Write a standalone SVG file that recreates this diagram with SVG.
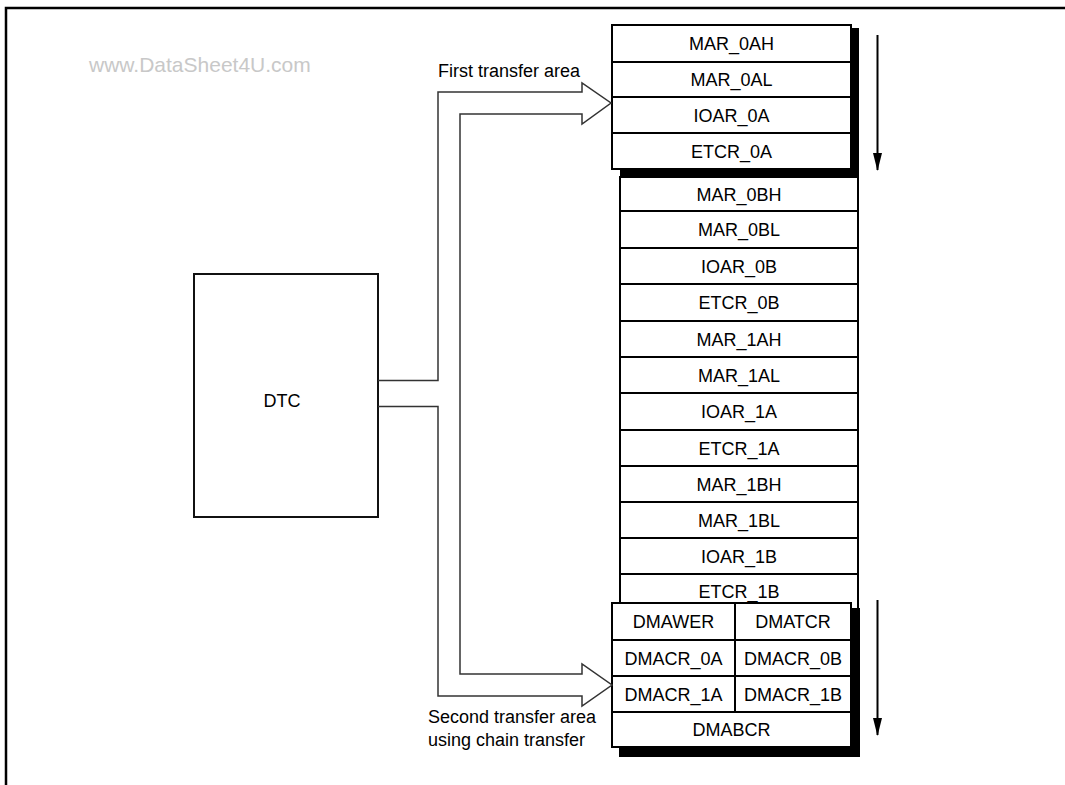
<svg xmlns="http://www.w3.org/2000/svg" width="1065" height="785" viewBox="0 0 1065 785">
<style>
.t{font-family:"Liberation Sans",Arial,sans-serif;font-size:18px;fill:#000;text-anchor:middle}
.tl{font-family:"Liberation Sans",Arial,sans-serif;font-size:18px;fill:#000}
.wm{font-family:"Liberation Sans",Arial,sans-serif;font-size:21px;fill:#c8c8c8}
.cell{fill:#fff;stroke:#000;stroke-width:2}
.ln{stroke:#000;stroke-width:2}
.sh{fill:#000}
.conn{fill:none;stroke:#333;stroke-width:1.5}
.frame{stroke:#000;stroke-width:2.5;fill:none}
</style>
<defs>
<marker id="ah" viewBox="0 0 18 9" refX="17" refY="4.5" markerWidth="18" markerHeight="9" markerUnits="userSpaceOnUse" orient="auto">
<path d="M0,0 L18,4.5 L0,9 Z" fill="#000"/>
</marker>
</defs>
<rect width="1065" height="785" fill="#fff"/>
<g id="frame">
<path class="frame" d="M6,785 V8 H1065"/>
</g>
<text class="wm" x="89" y="72">www.DataSheet4U.com</text>

<g id="dtc">
<rect x="194" y="274" width="184" height="243" fill="#fff" stroke="#111" stroke-width="2"/>
<text class="t" x="282" y="407">DTC</text>
</g>

<g id="middle-column">
<rect class="cell" x="620" y="177" width="238" height="433"/>
<line class="ln" x1="620" y1="211" x2="858" y2="211"/>
<line class="ln" x1="620" y1="248" x2="858" y2="248"/>
<line class="ln" x1="620" y1="284" x2="858" y2="284"/>
<line class="ln" x1="620" y1="321" x2="858" y2="321"/>
<line class="ln" x1="620" y1="357" x2="858" y2="357"/>
<line class="ln" x1="620" y1="393" x2="858" y2="393"/>
<line class="ln" x1="620" y1="430" x2="858" y2="430"/>
<line class="ln" x1="620" y1="466" x2="858" y2="466"/>
<line class="ln" x1="620" y1="502" x2="858" y2="502"/>
<line class="ln" x1="620" y1="538" x2="858" y2="538"/>
<line class="ln" x1="620" y1="574" x2="858" y2="574"/>
<text class="t" x="739" y="200.5">MAR_0BH</text>
<text class="t" x="739" y="236">MAR_0BL</text>
<text class="t" x="739" y="272.5">IOAR_0B</text>
<text class="t" x="739" y="309">ETCR_0B</text>
<text class="t" x="739" y="345.5">MAR_1AH</text>
<text class="t" x="739" y="381.5">MAR_1AL</text>
<text class="t" x="739" y="418">IOAR_1A</text>
<text class="t" x="739" y="454.5">ETCR_1A</text>
<text class="t" x="739" y="490.5">MAR_1BH</text>
<text class="t" x="739" y="526.5">MAR_1BL</text>
<text class="t" x="739" y="562.5">IOAR_1B</text>
<text class="t" x="739" y="598">ETCR_1B</text>
</g>

<g id="first-transfer-area">
<rect class="sh" x="620" y="28" width="239" height="149"/>
<rect class="cell" x="612" y="25" width="239" height="144"/>
<line class="ln" x1="612" y1="62" x2="851" y2="62"/>
<line class="ln" x1="612" y1="97" x2="851" y2="97"/>
<line class="ln" x1="612" y1="133" x2="851" y2="133"/>
<text class="t" x="731.5" y="50">MAR_0AH</text>
<text class="t" x="731.5" y="86">MAR_0AL</text>
<text class="t" x="731.5" y="121.5">IOAR_0A</text>
<text class="t" x="731.5" y="157.5">ETCR_0A</text>
</g>

<g id="second-transfer-area">
<rect class="sh" x="619" y="608" width="241" height="149"/>
<rect class="cell" x="612" y="603" width="239" height="144"/>
<line class="ln" x1="612" y1="640" x2="851" y2="640"/>
<line class="ln" x1="612" y1="676" x2="851" y2="676"/>
<line class="ln" x1="612" y1="712" x2="851" y2="712"/>
<line class="ln" x1="735" y1="603" x2="735" y2="712"/>
<text class="t" x="673.5" y="628">DMAWER</text>
<text class="t" x="793" y="628">DMATCR</text>
<text class="t" x="673.5" y="664.5">DMACR_0A</text>
<text class="t" x="793" y="664.5">DMACR_0B</text>
<text class="t" x="673.5" y="700.5">DMACR_1A</text>
<text class="t" x="793" y="700.5">DMACR_1B</text>
<text class="t" x="731.5" y="736">DMABCR</text>
</g>

<g id="connectors">
<path class="conn" d="M378,380.5 H438 V92 H582 V83 L611,103 L582,124 V114 H460 V674 H582 V664 L612,685 L582,706 V696 H438 V406.5 H378"/>
<line x1="877.5" y1="35" x2="877.5" y2="170" stroke="#000" stroke-width="2" marker-end="url(#ah)"/>
<line x1="877.5" y1="600" x2="877.5" y2="735" stroke="#000" stroke-width="2" marker-end="url(#ah)"/>
</g>

<text class="tl" x="438" y="77">First transfer area</text>
<text class="tl" x="428" y="723">Second transfer area</text>
<text class="tl" x="428" y="746">using chain transfer</text>
</svg>
